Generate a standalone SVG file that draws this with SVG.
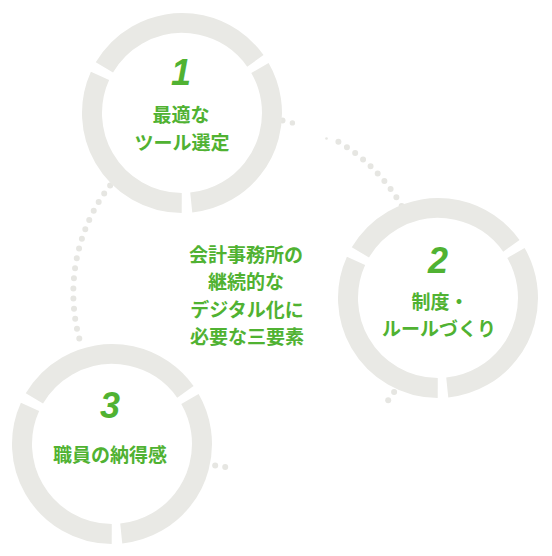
<svg xmlns="http://www.w3.org/2000/svg" width="552" height="556" viewBox="0 0 552 556">
  <style>
    .ring { fill: #ffffff; stroke: #e9e9e5; stroke-width: 20; stroke-dasharray: 179 9.5; }
    .dots { fill: none; stroke: #e6e6e2; stroke-width: 6; stroke-linecap: round; stroke-dasharray: 0 10.11; }
    .dot { fill: #e6e6e2; }
    .num { font-family: "Liberation Sans", "DejaVu Sans", sans-serif; font-weight: bold; font-style: italic; font-size: 36px; fill: #50b232; text-anchor: middle; }
    .lbl { font-family: "Noto Sans CJK JP", "Noto Sans", sans-serif; font-weight: bold; font-size: 19px; fill: #50b232; text-anchor: middle; }
  </style>
  <rect width="552" height="556" fill="#ffffff"/>
  <g id="connectors">
    <circle class="dot" cx="282.5" cy="120.5" r="3"/>
    <circle class="dot" cx="292.4" cy="122.9" r="2.7"/>
    <circle class="dot" cx="326.5" cy="138.5" r="1.3"/>
    <path class="dots" d="M338.4,141.8 A175.7,175.7 0 0 1 406.4,214.9"/>
    <circle class="dot" cx="394.1" cy="392.0" r="3"/>
    <circle class="dot" cx="388.2" cy="400.2" r="3"/>
    <circle class="dot" cx="225.2" cy="467.1" r="3"/>
    <circle class="dot" cx="215.2" cy="465.4" r="3"/>
    <path class="dots" d="M79.3,338.5 A175.7,175.7 0 0 1 110.2,185.3"/>
  </g>
  <g id="node1">
    <circle class="ring" cx="182" cy="113" r="90" transform="rotate(-30 182 113)"/>
    <text class="num" x="181" y="85">1</text>
    <text class="lbl" x="181" y="122">最適な</text>
    <text class="lbl" x="182" y="150">ツール選定</text>
  </g>
  <g id="node2">
    <circle class="ring" cx="438" cy="298" r="90" transform="rotate(-30 438 298)"/>
    <text class="num" x="438" y="273">2</text>
    <text class="lbl" x="440" y="309">制度・</text>
    <text class="lbl" x="439" y="336">ルールづくり</text>
  </g>
  <g id="node3">
    <circle class="ring" cx="112" cy="444" r="90" transform="rotate(-30 112 444)"/>
    <text class="num" x="110" y="418">3</text>
    <text class="lbl" x="110" y="462">職員の納得感</text>
  </g>
  <g id="center-text">
    <text class="lbl" x="246" y="262">会計事務所の</text>
    <text class="lbl" x="246" y="289">継続的な</text>
    <text class="lbl" x="247" y="317">デジタル化に</text>
    <text class="lbl" x="247" y="344">必要な三要素</text>
  </g>
</svg>
